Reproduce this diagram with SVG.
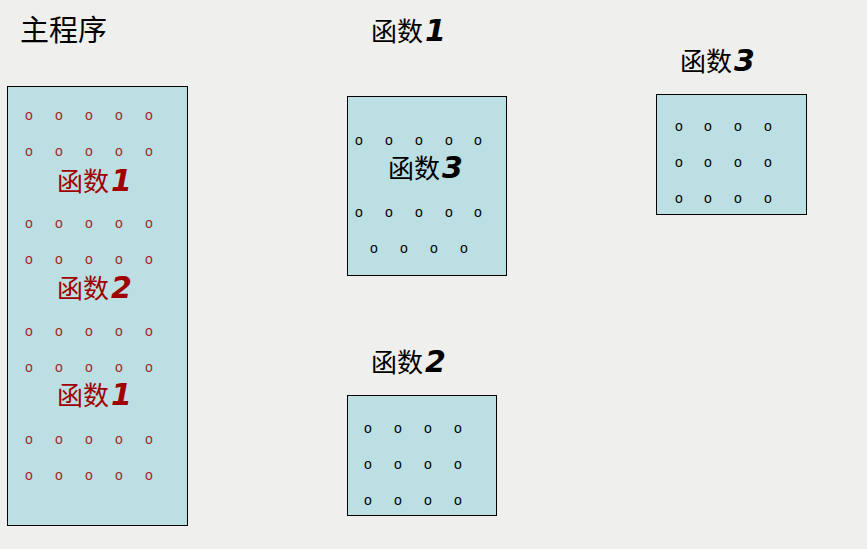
<svg xmlns="http://www.w3.org/2000/svg" width="867" height="549" viewBox="0 0 867 549">
<style>
.bg{fill:#EFEFED}
.box{fill:#BCDFE3;stroke:#000;stroke-width:1}
.t{font-family:"Noto Sans CJK SC","Noto Sans",sans-serif;font-size:26px;fill:#000}
.tr{fill:#A00000}
.d{font-weight:bold;font-style:italic;font-size:30px;font-family:"DejaVu Sans","Noto Sans",sans-serif}
.o{font-family:"Liberation Sans",Arial,sans-serif;font-size:14px;text-anchor:middle;fill:#000}
.or{fill:#A02828}
</style>
<rect class="bg" x="0" y="0" width="867" height="549"/>
<g id="main">
<text class="t" x="20" y="41" style="font-size:29px">主程序</text>
<rect class="box" x="7.5" y="86.5" width="180" height="439"/>
<g class="o or">
<text x="29" y="120">o</text><text x="59" y="120">o</text><text x="89" y="120">o</text><text x="119" y="120">o</text><text x="149" y="120">o</text>
<text x="29" y="156">o</text><text x="59" y="156">o</text><text x="89" y="156">o</text><text x="119" y="156">o</text><text x="149" y="156">o</text>
<text x="29" y="228">o</text><text x="59" y="228">o</text><text x="89" y="228">o</text><text x="119" y="228">o</text><text x="149" y="228">o</text>
<text x="29" y="264">o</text><text x="59" y="264">o</text><text x="89" y="264">o</text><text x="119" y="264">o</text><text x="149" y="264">o</text>
<text x="29" y="336">o</text><text x="59" y="336">o</text><text x="89" y="336">o</text><text x="119" y="336">o</text><text x="149" y="336">o</text>
<text x="29" y="372">o</text><text x="59" y="372">o</text><text x="89" y="372">o</text><text x="119" y="372">o</text><text x="149" y="372">o</text>
<text x="29" y="444">o</text><text x="59" y="444">o</text><text x="89" y="444">o</text><text x="119" y="444">o</text><text x="149" y="444">o</text>
<text x="29" y="480">o</text><text x="59" y="480">o</text><text x="89" y="480">o</text><text x="119" y="480">o</text><text x="149" y="480">o</text>
</g>
<text class="t tr" x="57" y="191">函数<tspan class="d" dx="2">1</tspan></text>
<text class="t tr" x="57" y="298">函数<tspan class="d" dx="2">2</tspan></text>
<text class="t tr" x="57" y="405">函数<tspan class="d" dx="2">1</tspan></text>
</g>
<g id="func1">
<text class="t" x="371" y="41">函数<tspan class="d" dx="2">1</tspan></text>
<rect class="box" x="347.5" y="96.5" width="159" height="179"/>
<g class="o">
<text x="359" y="145">o</text><text x="389" y="145">o</text><text x="419" y="145">o</text><text x="449" y="145">o</text><text x="478" y="145">o</text>
<text x="359" y="217">o</text><text x="389" y="217">o</text><text x="419" y="217">o</text><text x="449" y="217">o</text><text x="478" y="217">o</text>
<text x="374" y="253">o</text><text x="404" y="253">o</text><text x="434" y="253">o</text><text x="464" y="253">o</text>
</g>
<text class="t" x="388" y="178">函数<tspan class="d" dx="2">3</tspan></text>
</g>
<g id="func3">
<text class="t" x="680" y="71">函数<tspan class="d" dx="2">3</tspan></text>
<rect class="box" x="656.5" y="94.5" width="150" height="120"/>
<g class="o">
<text x="679" y="131">o</text><text x="708" y="131">o</text><text x="738" y="131">o</text><text x="768" y="131">o</text>
<text x="679" y="167">o</text><text x="708" y="167">o</text><text x="738" y="167">o</text><text x="768" y="167">o</text>
<text x="679" y="203">o</text><text x="708" y="203">o</text><text x="738" y="203">o</text><text x="768" y="203">o</text>
</g>
</g>
<g id="func2">
<text class="t" x="371" y="372">函数<tspan class="d" dx="2">2</tspan></text>
<rect class="box" x="347.5" y="395.5" width="149" height="120"/>
<g class="o">
<text x="368" y="433">o</text><text x="398" y="433">o</text><text x="428" y="433">o</text><text x="458" y="433">o</text>
<text x="368" y="469">o</text><text x="398" y="469">o</text><text x="428" y="469">o</text><text x="458" y="469">o</text>
<text x="368" y="505">o</text><text x="398" y="505">o</text><text x="428" y="505">o</text><text x="458" y="505">o</text>
</g>
</g>
<g id="connectors"/>
</svg>
